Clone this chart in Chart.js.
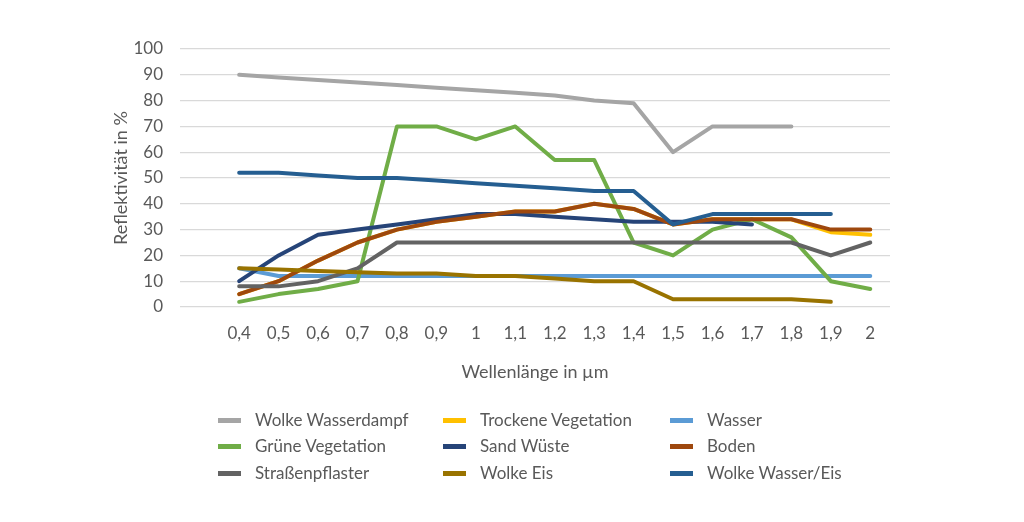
<!DOCTYPE html>
<html>
<head>
<meta charset="utf-8">
<script src="https://cdn.jsdelivr.net/npm/chart.js@4"></script>
<style>
  html, body { margin: 0; padding: 0; background: #ffffff; }
  #wrap { position: relative; width: 1024px; height: 522px; overflow: hidden; }
  #c { position: absolute; left: 0; top: 0; }
  .lg { position: absolute; font-family: Lato, "Open Sans", sans-serif; font-size: 17px; color: #595959; white-space: nowrap; line-height: 20px; }
  .lg .mk { position: absolute; width: 23px; height: 5px; top: 8px; }
  .lg .tx { position: absolute; left: 37px; top: 0; }
</style>
</head>
<body>
<div id="wrap">
  <canvas id="c" width="1024" height="522"></canvas>
</div>
<script>
// Wavelengths (µm) – x categories
const wavelengths = [0.4, 0.5, 0.6, 0.7, 0.8, 0.9, 1.0, 1.1, 1.2, 1.3, 1.4, 1.5, 1.6, 1.7, 1.8, 1.9, 2.0];

const seriesNames = [
  "Wolke Wasserdampf", "Trockene Vegetation", "Wasser",
  "Grüne Vegetation", "Sand Wüste", "Boden",
  "Straßenpflaster", "Wolke Eis", "Wolke Wasser/Eis"
];

const wolkeWasserdampf   = [90, 89, 88, 87, 86, 85, 84, 83, 82, 80, 79, 60, 70, 70, 70];
const trockeneVegetation = [5, 10, 18, 25, 30, 33, 35, 37, 37, 40, 38, 32, 34, 34, 34, 29, 28];
const wasser             = [15, 12, 12, 12, 12, 12, 12, 12, 12, 12, 12, 12, 12, 12, 12, 12, 12];
const grueneVegetation   = [2, 5, 7, 10, 70, 70, 65, 70, 57, 57, 25, 20, 30, 34, 27, 10, 7];
const sandWueste         = [10, 20, 28, 30, 32, 34, 36, 36, 35, 34, 33, 33, 33, 32];
const boden              = [5, 10, 18, 25, 30, 33, 35, 37, 37, 40, 38, 32, 34, 34, 34, 30, 30];
const strassenpflaster   = [8, 8, 10, 15, 25, 25, 25, 25, 25, 25, 25, 25, 25, 25, 25, 20, 25];
const wolkeEis           = [15, 14.5, 14, 13.5, 13, 13, 12, 12, 11, 10, 10, 3, 3, 3, 3, 2];
const wolkeWasserEis     = [52, 52, 51, 50, 50, 49, 48, 47, 46, 45, 45, 32, 36, 36, 36, 36];

const yTicks = [0, 10, 20, 30, 40, 50, 60, 70, 80, 90, 100];

const seriesValues = [wolkeWasserdampf, trockeneVegetation, wasser, grueneVegetation,
  sandWueste, boden, strassenpflaster, wolkeEis, wolkeWasserEis];
const seriesColors = ["#A5A5A5", "#FFC000", "#5B9BD5", "#70AD47", "#264478",
  "#9E480E", "#636363", "#997300", "#255E91"];

const TEXT = "#595959";
const FONT = "Lato, 'Open Sans', sans-serif";

// a leading empty category reproduces the blank slot before 0,4
const labels = [""].concat(wavelengths.map(w => String(w).replace(".", ",")));

const datasets = seriesNames.map((name, i) => ({
  label: name,
  data: [null].concat(seriesValues[i]),
  borderColor: seriesColors[i],
  backgroundColor: seriesColors[i],
  borderWidth: 4,
  pointRadius: 0,
  pointHoverRadius: 0,
  tension: 0,
  fill: false,
  spanGaps: false,
  borderCapStyle: "round",
  borderJoinStyle: "round",
  order: -i
}));

new Chart(document.getElementById("c"), {
  type: "line",
  data: { labels: labels, datasets: datasets },
  options: {
    responsive: false,
    animation: false,
    events: [],
    layout: { padding: { left: 100, right: 134, top: 49, bottom: 135 } },
    plugins: { legend: { display: false }, tooltip: { enabled: false } },
    scales: {
      x: {
        offset: true,
        grid: { display: false, drawTicks: false },
        border: { display: false },
        ticks: { color: TEXT, font: { family: FONT, size: 17 }, padding: 16, maxRotation: 0, autoSkip: false },
        title: { display: true, text: "Wellenlänge in µm", color: TEXT, font: { family: FONT, size: 18 }, padding: { top: 4, bottom: 4 } },
        afterFit: s => { s.height = 80; }
      },
      y: {
        min: 0, max: 100,
        afterBuildTicks: s => { s.ticks = yTicks.map(v => ({ value: v })); },
        grid: { color: "#D9D9D9", lineWidth: 1.3, drawTicks: false },
        border: { display: false },
        ticks: { color: TEXT, font: { family: FONT, size: 17 }, padding: 17 },
        title: { display: true, text: "Reflektivität in %", color: TEXT, font: { family: FONT, size: 18 }, padding: { top: 10, bottom: 0 } },
        afterFit: s => { s.width = 80; }
      }
    }
  }
});

// legend: 3 columns x 3 rows, built from the series names/colours
const colX = [218, 443, 670];
const rowY = [410, 436, 463];
const wrap = document.getElementById("wrap");
seriesNames.forEach((name, i) => {
  const d = document.createElement("div");
  d.className = "lg";
  d.style.left = colX[i % 3] + "px";
  d.style.top = rowY[Math.floor(i / 3)] + "px";
  const m = document.createElement("span");
  m.className = "mk";
  m.style.background = seriesColors[i];
  const t = document.createElement("span");
  t.className = "tx";
  t.textContent = name;
  d.appendChild(m); d.appendChild(t);
  wrap.appendChild(d);
});
</script>
</body>
</html>
